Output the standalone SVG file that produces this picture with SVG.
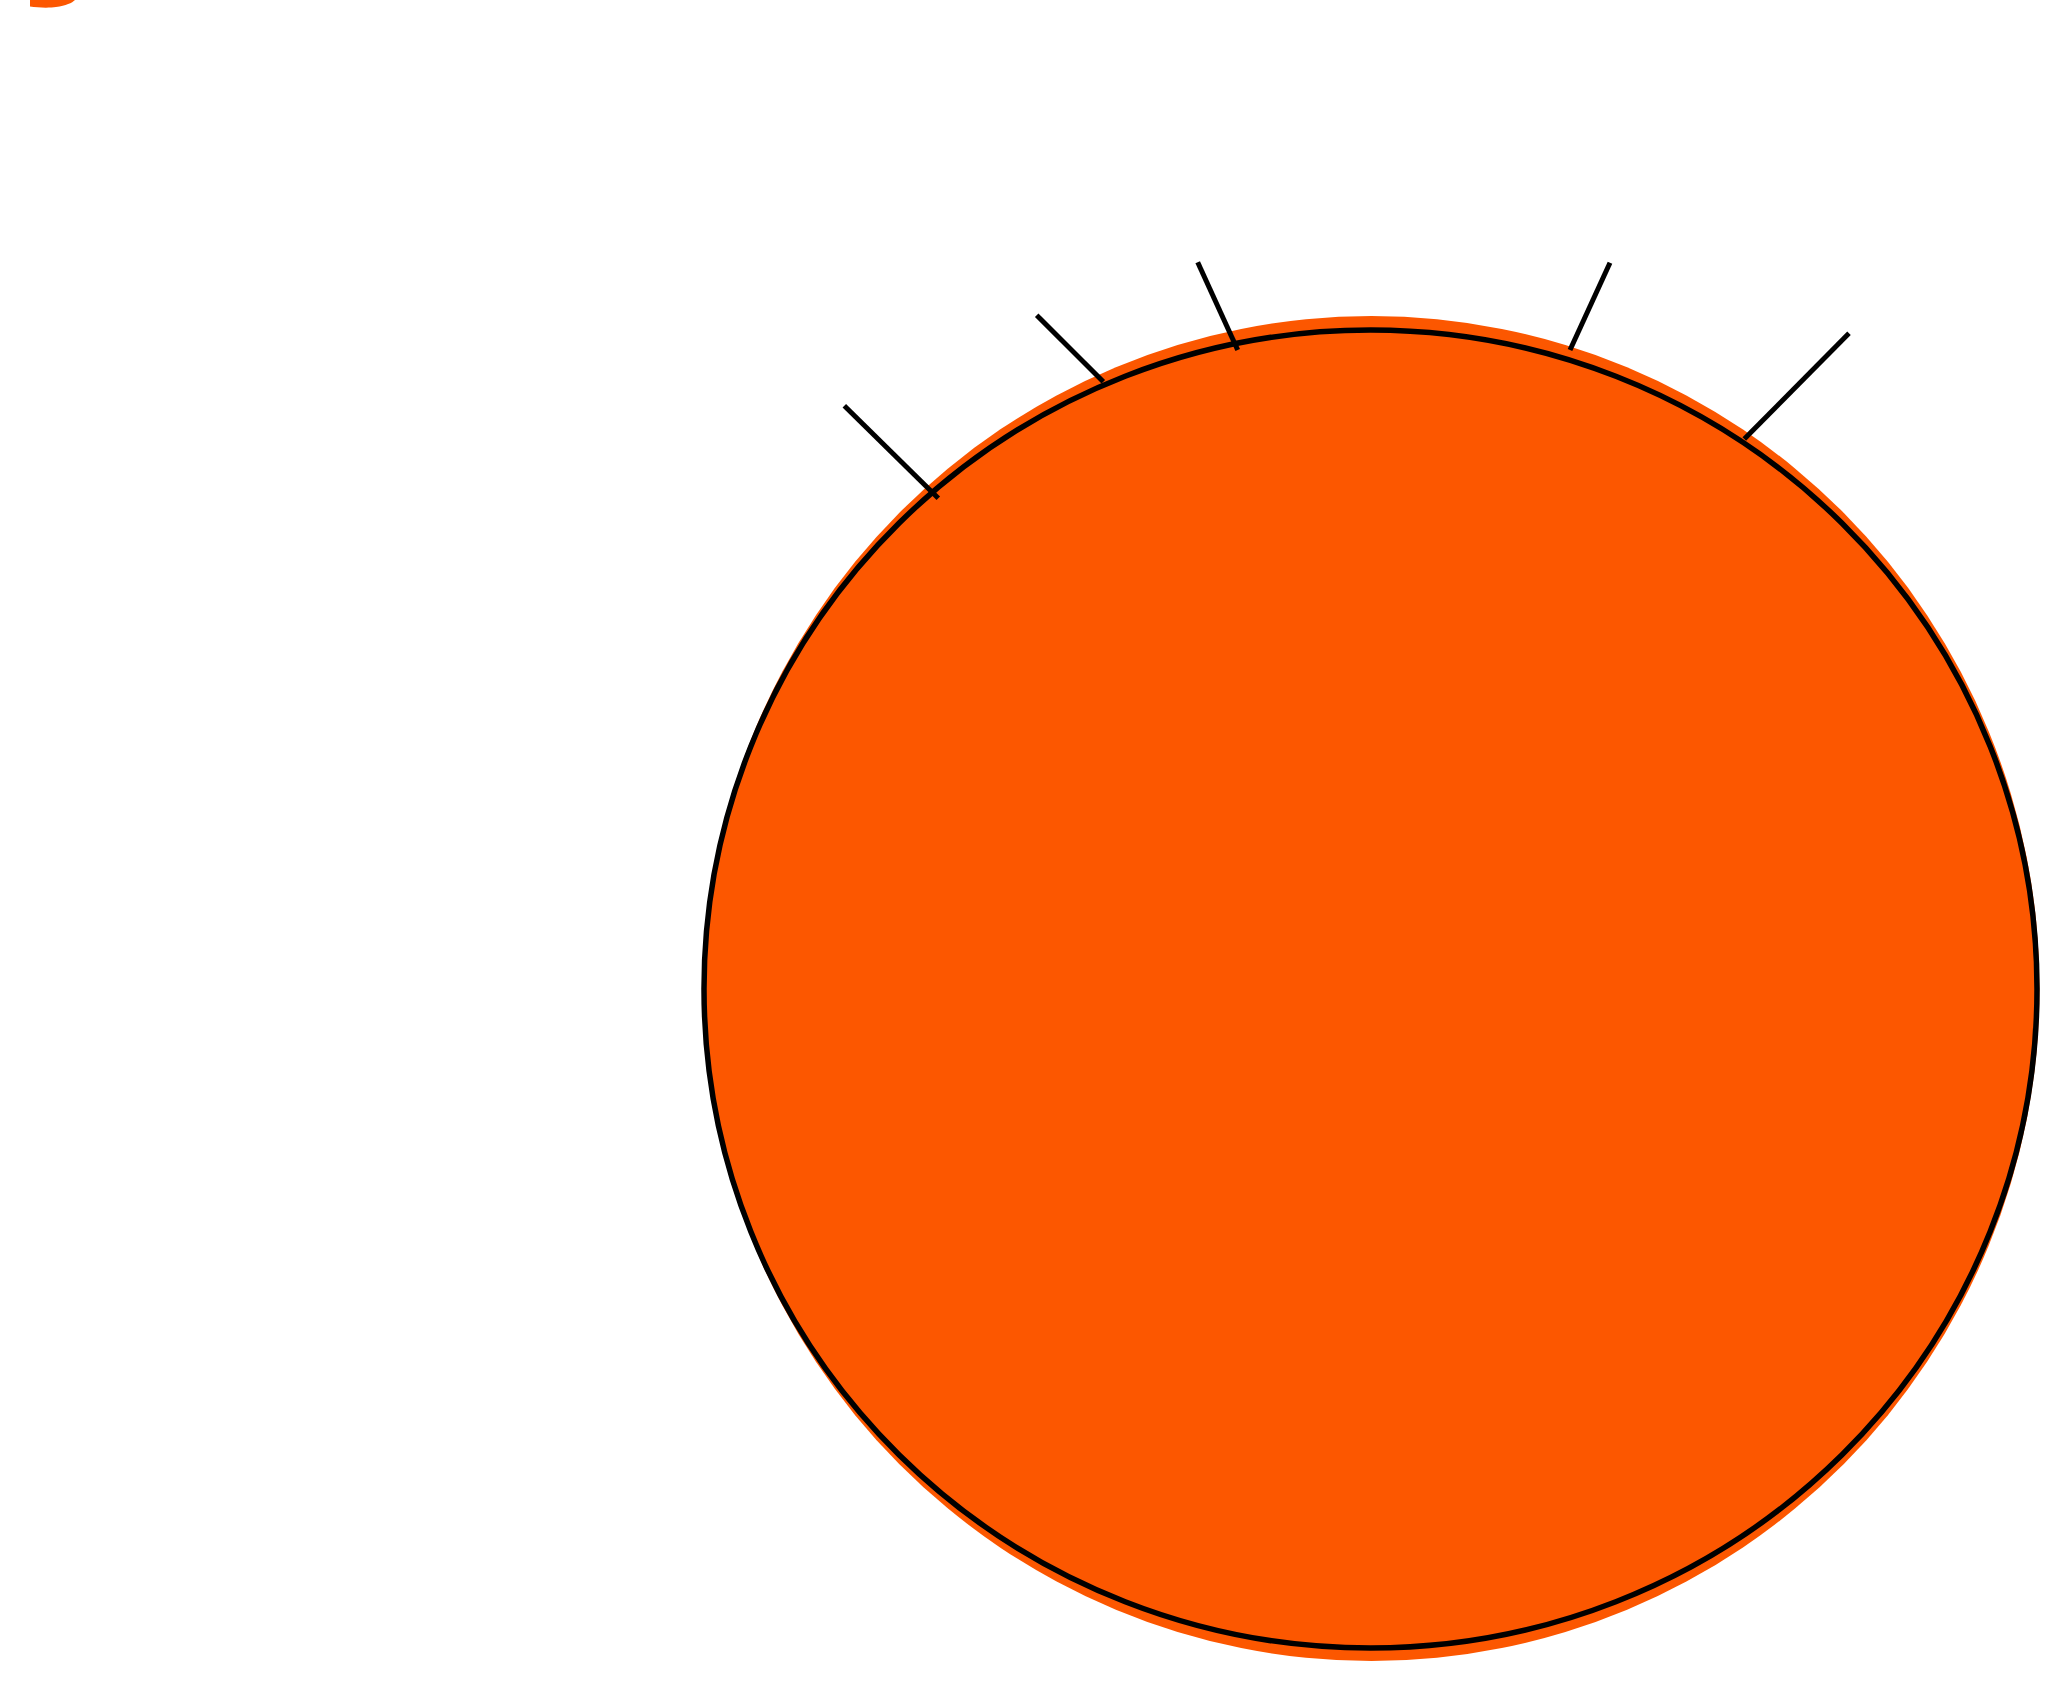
<svg xmlns="http://www.w3.org/2000/svg" width="2069" height="1691" viewBox="0 0 2069 1691">
<style>
.fill{fill:#FC5700;stroke:none}
.rim{fill:none;stroke:#000;stroke-width:5.5}
.tick{stroke:#000;stroke-width:5;stroke-linecap:butt;fill:none}
</style>
<rect width="2069" height="1691" fill="#fff"/>
<g id="corner-mark">
<path class="fill" d="M30,0 L30,6.5 C38,7.8 50,8 56,7 C66,5.5 72,3 75,0 Z"/>
</g>
<g id="cell">
<ellipse class="fill" cx="1371.5" cy="988.5" rx="668" ry="672.5"/>
<ellipse class="rim" cx="1370.5" cy="989" rx="666.5" ry="659"/>
</g>
<g id="connectors">
<line class="tick" x1="844.3" y1="405.7" x2="938.3" y2="498.3"/>
<line class="tick" x1="1036.7" y1="315.3" x2="1103.3" y2="381.7"/>
<line class="tick" x1="1197.7" y1="262.3" x2="1237.7" y2="350"/>
<line class="tick" x1="1610" y1="262.7" x2="1570" y2="350"/>
<line class="tick" x1="1849" y1="333.3" x2="1744.3" y2="439"/>
</g>
</svg>
